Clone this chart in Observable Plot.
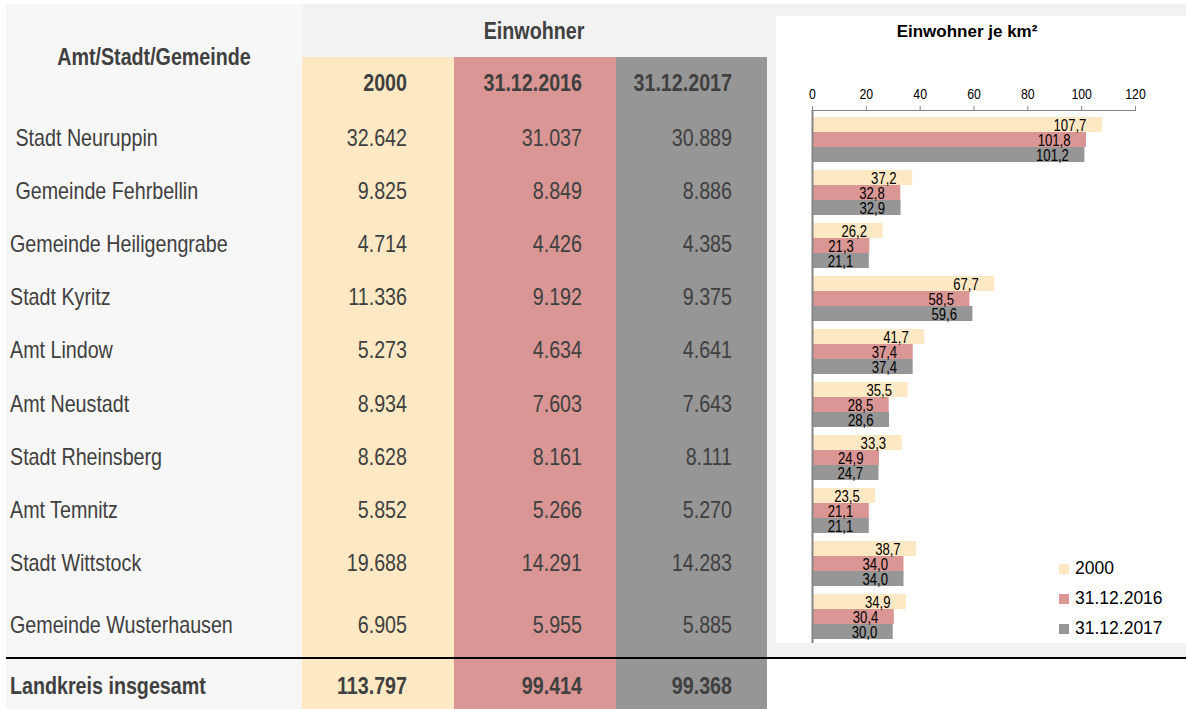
<!DOCTYPE html>
<html><head><meta charset="utf-8">
<script src="https://cdn.jsdelivr.net/npm/d3@7"></script>
<script src="https://cdn.jsdelivr.net/npm/@observablehq/plot@0.6"></script>
<style>
body{margin:0;background:#fff;}
#root{position:relative;width:1186px;height:709px;overflow:hidden;font-family:"Liberation Sans",Arial,sans-serif;}
.bg{position:absolute;}
.t{position:absolute;white-space:pre;line-height:1;transform-origin:0 0;}
#chart{position:absolute;left:776px;top:16px;}
#chart g[aria-label^="x-axis"] text{fill:#000;}
</style></head>
<body><div id="root"></div>
<script>
// ---- data ----
const municipalities = [" Stadt Neuruppin"," Gemeinde Fehrbellin","Gemeinde Heiligengrabe","Stadt Kyritz","Amt Lindow","Amt Neustadt","Stadt Rheinsberg","Amt Temnitz","Stadt Wittstock","Gemeinde Wusterhausen"];
const seriesLabels = ["2000","31.12.2016","31.12.2017"];
const seriesColors = ["#ffe9c4","#d99694","#969696"];
const pop2000 = [32642, 9825, 4714, 11336, 5273, 8934, 8628, 5852, 19688, 6905];
const pop2016 = [31037, 8849, 4426, 9192, 4634, 7603, 8161, 5266, 14291, 5955];
const pop2017 = [30889, 8886, 4385, 9375, 4641, 7643, 8111, 5270, 14283, 5885];
const totalLabel = "Landkreis insgesamt";
const totals = [113797, 99414, 99368];
const dens2000 = [107.7, 37.2, 26.2, 67.7, 41.7, 35.5, 33.3, 23.5, 38.7, 34.9];
const dens2016 = [101.8, 32.8, 21.3, 58.5, 37.4, 28.5, 24.9, 21.1, 34.0, 30.4];
const dens2017 = [101.2, 32.9, 21.1, 59.6, 37.4, 28.6, 24.7, 21.1, 34.0, 30.0];
const xTicks = [0, 20, 40, 60, 80, 100, 120];
const headerLeft = "Amt/Stadt/Gemeinde";
const headerGroup = "Einwohner";
const chartTitle = "Einwohner je km²";

// ---- helpers ----
const hasNarrow = (() => {
  const c = document.createElement("canvas").getContext("2d");
  const s = "abcdefghijklmnop0123456789";
  c.font = "20px monospace"; const a = c.measureText(s).width;
  c.font = "20px 'Liberation Sans Narrow', monospace"; const b = c.measureText(s).width;
  return Math.abs(a - b) > 0.5;
})();
const NARROW_FAMILY = hasNarrow ? "'Liberation Sans Narrow'" : "'Liberation Sans', Arial, sans-serif";
const K = hasNarrow ? 1 : 0.82;

const de = d3.formatLocale({decimal: ",", thousands: ".", grouping: [3], currency: ["", "€"]});
const fmtInt = de.format(",d");
const fmt1 = de.format(".1f");

const root = document.getElementById("root");
function box(x, y, w, h, color) {
  const d = document.createElement("div");
  d.className = "bg";
  Object.assign(d.style, {left: x + "px", top: y + "px", width: w + "px", height: h + "px", background: color});
  root.appendChild(d);
}
function txt(str, x, y, {anchor = "start", size = 24, bold = false, color = "#404040", narrow = true} = {}) {
  const d = document.createElement("div");
  d.className = "t";
  d.textContent = str;
  const k = narrow ? K : 1;
  Object.assign(d.style, {
    left: x + "px", top: y + "px", fontSize: size + "px",
    fontWeight: bold ? "bold" : "normal", color,
    fontFamily: narrow ? NARROW_FAMILY : "'Liberation Sans', Arial, sans-serif"
  });
  const tx = anchor === "end" ? "-100%" : anchor === "middle" ? "-50%" : "0";
  d.style.transform = `scaleX(${k}) translate(${tx},-50%)`;
  root.appendChild(d);
}

// ---- table background ----
box(6, 4, 296, 705, "#f7f7f7");
box(302, 4, 884, 653, "#f2f2f2");
const colX = [302, 454, 616, 767];
for (let j = 0; j < 3; j++) box(colX[j], 57, colX[j + 1] - colX[j], 652, seriesColors[j]);

// ---- chart ----
const dens = [dens2000, dens2016, dens2017];
const tables = dens.map(vals => municipalities.map((m, i) => ({m, v: vals[i]})));
const chart = Plot.plot({
  width: 410, height: 627,
  marginTop: 94, marginBottom: 0, marginLeft: 36, marginRight: 51,
  style: {background: "#fff", color: "#858585", fontSize: "15px", fontFamily: NARROW_FAMILY, overflow: "visible"},
  x: {domain: [0, 120], ticks: xTicks, axis: "top", line: true, tickSize: 5, tickPadding: 7, label: null, tickFormat: d => String(d)},
  y: {domain: municipalities, range: [99, 624], paddingInner: 0.156, paddingOuter: 0, axis: null},
  marks: [
    ...tables.map((data, j) => Plot.barX(data, {x: "v", y: "m", fill: seriesColors[j], insetTop: j * 15, insetBottom: (2 - j) * 15})),
    Plot.ruleX([0], {stroke: "#858585", strokeWidth: 2}),
    ...tables.map((data, j) => Plot.text(data, {x: "v", y: "m", text: d => fmt1(d.v), textAnchor: "end", dx: -16, dy: [-14, 1, 16][j], fill: "#000", fontSize: 16}))
  ]
});
// condense svg texts horizontally when no narrow face is installed
if (K !== 1) {
  chart.querySelectorAll("text").forEach(t => {
    const x = parseFloat(t.getAttribute("x") || "0");
    if (x) t.setAttribute("x", x / K);
    const tr = t.getAttribute("transform") || "";
    t.setAttribute("transform", (tr + ` scale(${K},1)`).trim());
  });
}
const chartWrap = document.createElement("div");
chartWrap.id = "chart";
chartWrap.appendChild(chart);
root.appendChild(chartWrap);

// ---- separator line ----
box(6, 657, 1180, 1.5, "#000");

// ---- table texts ----
txt(headerLeft, 154, 57, {anchor: "middle", bold: true});
txt(headerGroup, 534, 31, {anchor: "middle", bold: true});
const rightEdge = [407, 582, 732];
seriesLabels.forEach((s, j) => txt(s, rightEdge[j], 83, {anchor: "end", bold: true}));
const pops = [pop2000, pop2016, pop2017];
municipalities.forEach((m, i) => {
  const y = i < 9 ? 138 + i * 53.1 : 625;
  txt(m, 10, y);
  pops.forEach((p, j) => txt(fmtInt(p[i]), rightEdge[j], y, {anchor: "end"}));
});
txt(totalLabel, 10, 686, {bold: true});
totals.forEach((t, j) => txt(fmtInt(t), rightEdge[j], 686, {anchor: "end", bold: true}));

// ---- chart title & legend ----
txt(chartTitle, 967, 31, {anchor: "middle", bold: true, size: 17, color: "#000", narrow: false});
seriesLabels.forEach((s, j) => {
  const y = 569 + j * 30;
  box(1059, y - 5, 10, 10, seriesColors[j]);
  txt(s, 1075, y, {size: 17.5, color: "#000", narrow: false});
});
</script></body></html>
